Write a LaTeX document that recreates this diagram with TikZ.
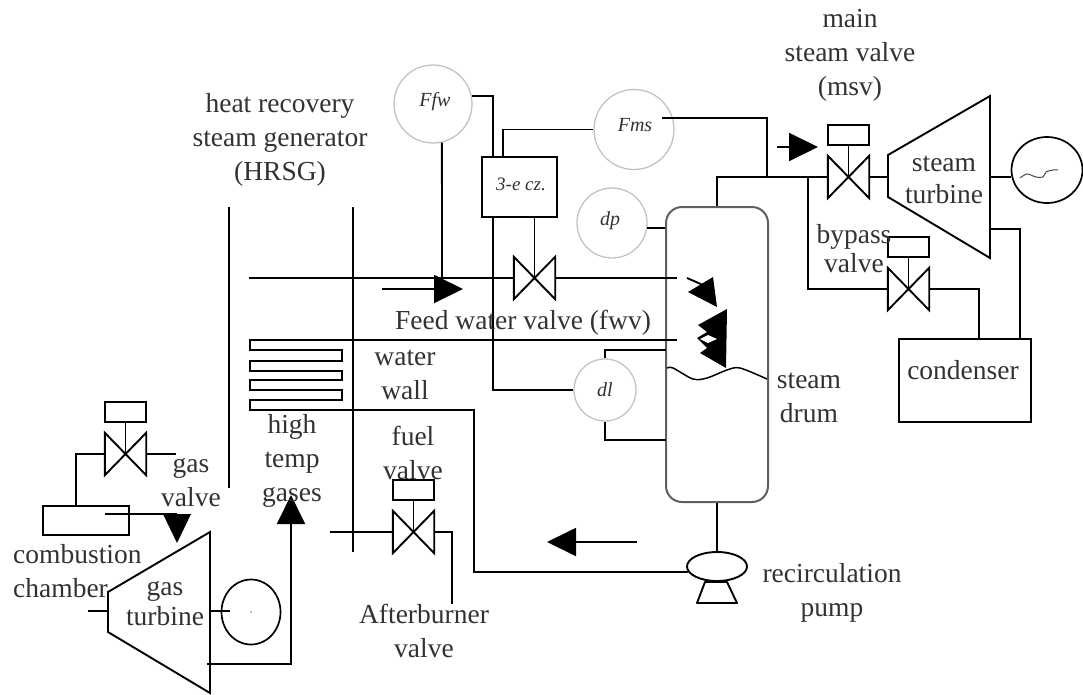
\documentclass[tikz,border=0pt]{standalone}
\usepackage{fontspec}
\setmainfont{Liberation Serif}
\usepackage{xcolor}
\definecolor{LabelGrey}{RGB}{50, 50, 50}
\definecolor{DrumGrey}{RGB}{95, 95, 95}
\definecolor{GaugeGrey}{RGB}{195, 195, 195}
\usepackage{tikz}
\usetikzlibrary{shapes.geometric, arrows.meta, positioning}
\tikzset{
    pipe/.style={line width=1.9pt, line join=miter},
    flowarrow/.style={pipe, -{Triangle[length=29pt, width=28pt]}},
    valvebody/.style={minimum width=41pt, minimum height=42pt, inner sep=0pt},
    actuator/.style={draw, line width=1.9pt, minimum width=41pt, minimum height=20pt, inner sep=0pt},
    gauge/.style={draw=GaugeGrey, line width=1.3pt, circle, inner sep=0pt},
    gaugetext/.style={text=LabelGrey, font=\fontsize{20}{24}\selectfont\itshape},
    plantlabel/.style={text=LabelGrey, align=center, inner sep=0pt}
}

\begin{document}
\begin{tikzpicture}[x=1pt, y=-1pt, every node/.style={font=\fontsize{27.5}{34}\selectfont}]
    \useasboundingbox (0,0) rectangle (1083,694);

    % steam drum and gauges
    \node[draw=DrumGrey, line width=2pt, rounded corners=16pt, minimum width=102pt, minimum height=295pt, inner sep=0pt] (drum) at (717,354.5) {};
    \node[gauge, minimum size=78pt] (ffw) at (433,104) {};
    \node[gauge, minimum size=80pt] (fms) at (634,129.5) {};
    \node[gauge, minimum size=70pt] (dp) at (612,223) {};
    \node[gauge, minimum size=62pt] (dl) at (605,390) {};
    \node[gaugetext] (ffwtext) at (435,102) {Ffw};
    \node[gaugetext] (fmstext) at (635,125) {Fms};
    \node[gaugetext] (dptext) at (610,221) {dp};
    \node[gaugetext] (dltext) at (605,390) {dl};
    \node[draw, line width=1.9pt, minimum width=75pt, minimum height=60pt, inner sep=0pt] (ctr) at (519.5,187) {};
    \node[gaugetext, font=\fontsize{19}{24}\selectfont\itshape] (ctrtext) at (521,184) {3-e cz.};

    % valves
    \node[valvebody] (fwv) at (534.5,278) {};
    \node[valvebody] (msv) at (848.5,177) {};
    \node[valvebody] (bpv) at (908.5,289) {};
    \node[valvebody] (fuelv) at (413.5,532) {};
    \node[valvebody] (gasv) at (125.5,454) {};
    \node[actuator, above=10pt of msv] (msvact) {};
    \node[actuator, above=10pt of bpv] (bpvact) {};
    \node[actuator, above=10pt of fuelv] (fuelact) {};
    \node[actuator, above=10pt of gasv] (gasact) {};
    \draw[pipe] (fwv.north west) -- (fwv.south east) -- (fwv.north east) -- (fwv.south west) -- cycle;
    \draw[pipe] (msv.north west) -- (msv.south east) -- (msv.north east) -- (msv.south west) -- cycle;
    \draw[pipe] (bpv.north west) -- (bpv.south east) -- (bpv.north east) -- (bpv.south west) -- cycle;
    \draw[pipe] (fuelv.north west) -- (fuelv.south east) -- (fuelv.north east) -- (fuelv.south west) -- cycle;
    \draw[pipe] (gasv.north west) -- (gasv.south east) -- (gasv.north east) -- (gasv.south west) -- cycle;
    \draw[pipe] (msvact) -- (msv.center);
    \draw[pipe] (bpvact) -- (bpv.center);
    \draw[pipe] (fuelact) -- (fuelv.center);
    \draw[pipe] (gasact) -- (gasv.center);
    \draw[pipe] (ctr.south -| fwv.center) -- (fwv.center);

    % other equipment
    \node[draw, line width=1.9pt, minimum width=132pt, minimum height=83pt, inner sep=0pt] (cond) at (965,380.5) {};
    \node[draw, line width=1.9pt, minimum width=86pt, minimum height=29pt, inner sep=0pt] (cc) at (86,520.5) {};
    \node[draw, ellipse, line width=1.7pt, minimum width=71pt, minimum height=66pt, inner sep=0pt] (stgen) at (1047,170) {};
    \node[draw, ellipse, line width=1.7pt, minimum width=59pt, minimum height=65pt, inner sep=0pt] (gtgen) at (251,612) {};
    \node[draw, ellipse, line width=1.9pt, minimum width=60pt, minimum height=29pt, inner sep=0pt] (pump) at (717,566.5) {};
    \draw[pipe, line join=round] (705,582) -- (727,582) -- (737,603) -- (697,603) -- cycle;
    \draw[pipe] (888,155) -- (990,96) -- (990,258) -- (888,197) -- cycle;
    \draw[pipe] (108,592) -- (210,532) -- (210,693) -- (108,632) -- cycle;
    \fill[black!40] (251,612) circle (1pt);
    \draw[line width=1pt, black!70] plot[smooth] coordinates {(1020,178) (1027,174) (1036,177) (1043,177) (1046,172) (1053,170) (1058,170)};

    % connection points
    \coordinate (ctra) at (493,157);
    \coordinate (ctrb) at (503,157);
    \coordinate (ctrc) at (493,217);
    \coordinate (ffwdown) at (442,277);
    \coordinate (fmsout) at (662,118);
    \coordinate (mainj) at (767,177);
    \coordinate (bypj) at (808,177);
    \coordinate (stin) at (888,177);
    \coordinate (stout) at (990,177);
    \coordinate (stex) at (990,229);
    \coordinate (condb) at (979,339);
    \coordinate (conda) at (1020,339);
    \coordinate (fwin) at (249,278);
    \coordinate (fwend) at (677,278);
    \coordinate (wwend) at (677,340);
    \coordinate (wwtop) at (250,340);
    \coordinate (wwbot) at (250,410);
    \coordinate (recirc) at (474,410);
    \coordinate (pumpin) at (688,572);
    \coordinate (drumup) at (666,350);
    \coordinate (drumlow) at (666,440);
    \coordinate (ccin) at (76,506);
    \coordinate (gasvout) at (176,454);
    \coordinate (fuelin) at (330,532);
    \coordinate (abend) at (452,604);
    \coordinate (gtin) at (108,611);
    \coordinate (gtfree) at (88,611);
    \coordinate (gtout) at (210,611);
    \coordinate (gtshaft) at (230,611);
    \coordinate (gtex) at (207,664);
    \coordinate (hrsgla) at (229,207);
    \coordinate (hrsglb) at (229,488);
    \coordinate (hrsgra) at (353,207);
    \coordinate (hrsgrb) at (353,552);

    % pipes and signal lines
    \draw[pipe] (ffw.12) -| (ctra);
    \draw[pipe] (ffw.-77) -- (ffwdown);
    \draw[pipe] (fms.west) -| (ctrb);
    \draw[pipe] (fmsout) -| (mainj);
    \draw[pipe] (dp.-8) -- (dp.-8 -| drum.west);
    \draw[pipe] (ctrc) |- (dl.west);
    \draw[pipe] (dl.north) |- (drumup);
    \draw[pipe] (dl.south) |- (drumlow);
    \draw[pipe] (drum.north) |- (msv.west);
    \draw[pipe] (msv.east) -- (stin);
    \draw[pipe] (stout) -- (stout -| stgen.west);
    \draw[pipe] (bypj) |- (bpv.west);
    \draw[pipe] (bpv.east) -| (condb);
    \draw[pipe] (stex) -| (conda);
    \draw[pipe] (fwin) -- (fwv.west);
    \draw[pipe] (fwv.east) -- (fwend);
    \draw[pipe] (wwend) -- (wwtop) -- (250,350) -- (342,350) -- (342,361) -- (250,361) -- (250,371) -- (342,371) -- (342,380) -- (250,380) -- (250,390) -- (342,390) -- (342,400) -- (250,400) -- (wwbot) -- (recirc) |- (pumpin);
    \draw[pipe] (drum.south) -- (pump.north);
    \draw[pipe] (hrsgla) -- (hrsglb);
    \draw[pipe] (hrsgra) -- (hrsgrb);
    \draw[pipe] (gasv.west) -| (ccin);
    \draw[pipe] (gasv.east) -- (gasvout);
    \draw[pipe] (fuelin) -- (fuelv.west);
    \draw[pipe] (fuelv.east) -| (abend);
    \draw[pipe] (gtfree) -- (gtin);
    \draw[pipe] (gtout) -- (gtshaft);

    % flow arrows
    \coordinate (gasflowa) at (105,514);
    \coordinate (gasflowb) at (177,514);
    \coordinate (gasflowc) at (177,543);
    \coordinate (hotgas) at (291,495);
    \coordinate (fwflowa) at (382,289);
    \coordinate (fwflowb) at (463,289);
    \coordinate (stflowa) at (777,147);
    \coordinate (stflowb) at (818,147);
    \coordinate (rcflowa) at (637,542);
    \coordinate (rcflowb) at (547,542);
    \draw[flowarrow] (fwflowa) -- (fwflowb);
    \draw[flowarrow] (stflowa) -- (stflowb);
    \draw[flowarrow] (rcflowa) -- (rcflowb);
    \draw[flowarrow] (gtex) -| (hotgas);
    \draw[pipe] (gasflowa) -- (gasflowb);
    \fill (163,514) -- (191,514) -- (gasflowc) -- cycle;
    % arrows inside the drum
    \draw[pipe] (687,278) -- (703,285);
    \fill (713,277) -- (717,307) -- (688,292) -- cycle;
    \fill (727,309) -- (698,325) -- (707,332) -- (697,338) -- (707,348) -- (700,353) -- (726,368) -- cycle;
    \fill[white] (700,339) -- (708,335) -- (717,339) -- (708,343) -- cycle;
    \draw[pipe, line width=1.5pt] plot[smooth] coordinates {(667,368) (673,368) (693,379) (707,378) (727,370) (740,368) (767,379)};

    % labels
    \node[plantlabel] (mainlabel) at (850,55) {main\\steam valve\\(msv)};
    \node[plantlabel] (hrsglabel) at (280,140) {heat recovery\\steam generator\\(HRSG)};
    \node[plantlabel] (fwvlabel) at (523,323) {Feed water valve (fwv)};
    \node[plantlabel] (walllabel) at (405,375) {water\\wall};
    \node[plantlabel] (gaseslabel) at (292,461) {high\\temp\\gases};
    \node[plantlabel] (fuellabel) at (413,453) {fuel\\valve};
    \node[plantlabel] (gaslabel) at (191,483) {gas\\valve};
    \node[plantlabel, align=left, anchor=west] (cclabel) at (13,571) {combustion\\chamber};
    \node[plantlabel] (gtlabel) at (165,604) {gas\\[-4pt]turbine};
    \node[plantlabel] (ablabel) at (424,631) {Afterburner\\valve};
    \node[plantlabel] (pumplabel) at (832,593) {recirculation\\pump};
    \node[plantlabel] (drumlabel) at (809,398) {steam\\drum};
    \node[plantlabel] (condlabel) at (963,370) {condenser};
    \node[plantlabel] (stlabel) at (944,180) {steam\\[-2pt]turbine};
    \node[plantlabel] (bpvlabel) at (854,249) {bypass\\[-5pt]valve};
\end{tikzpicture}
\end{document}
